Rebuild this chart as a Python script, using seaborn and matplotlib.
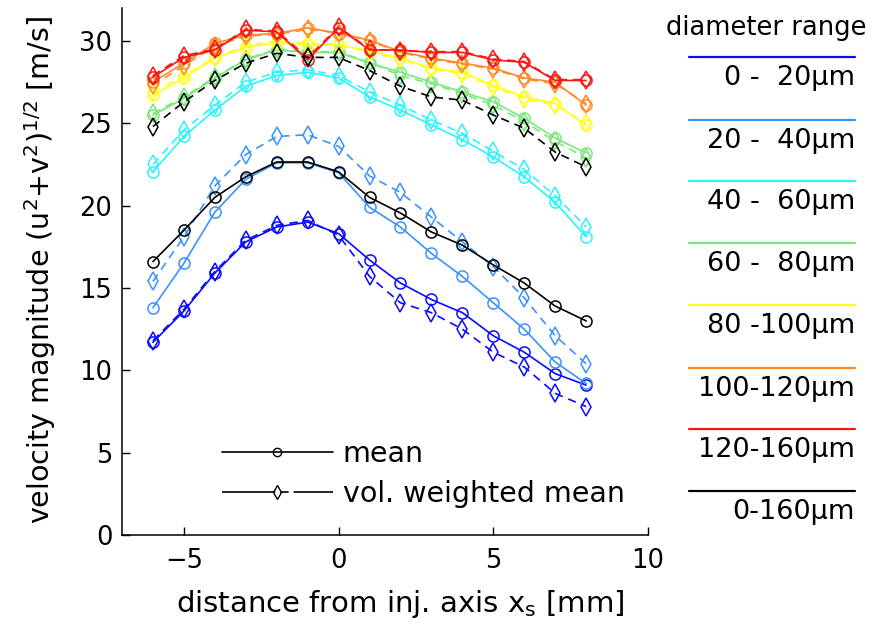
import matplotlib
matplotlib.use("Agg")
import matplotlib.pyplot as plt
from matplotlib.lines import Line2D
import seaborn as sns
import numpy as np

sns.set_style("white")
plt.rcParams['font.family'] = ['DejaVu Sans']
plt.rcParams['text.color'] = 'black'
plt.rcParams['axes.labelcolor'] = 'black'
plt.rcParams['xtick.color'] = 'black'
plt.rcParams['ytick.color'] = 'black'

# ---------------- data ----------------
x_mm = [-6, -5, -4, -3, -2, -1, 0, 1, 2, 3, 4, 5, 6, 7, 8]

range_labels = ["0 -  20\u00b5m", "20 -  40\u00b5m", "40 -  60\u00b5m", "60 -  80\u00b5m",
                "80 -100\u00b5m", "100-120\u00b5m", "120-160\u00b5m", "0-160\u00b5m"]
range_colors = ["#0a0aff", "#3a92ff", "#2af4ff", "#7be87a", "#ffff1a", "#ff8a26", "#ff1414", "#000000"]

mean_0_20 = [11.7, 13.6, 15.9, 17.8, 18.7, 19.0, 18.3, 16.7, 15.3, 14.3, 13.5, 12.1, 11.1, 9.8, 9.1]
vol_0_20 = [11.8, 13.7, 16.0, 17.9, 18.8, 19.1, 18.2, 15.7, 14.1, 13.5, 12.5, 11.1, 10.2, 8.6, 7.8]

mean_20_40 = [13.8, 16.5, 19.6, 21.6, 22.6, 22.6, 22.0, 19.9, 18.7, 17.1, 15.7, 14.1, 12.5, 10.5, 9.2]
vol_20_40 = [15.4, 18.1, 21.2, 23.1, 24.2, 24.3, 23.6, 21.8, 20.8, 19.3, 17.8, 16.3, 14.4, 12.1, 10.4]

mean_40_60 = [22.05, 24.2, 25.8, 27.25, 27.9, 28.1, 27.75, 26.6, 25.8, 24.9, 24.0, 22.95, 21.75, 20.2, 18.1]
vol_40_60 = [22.5, 24.6, 26.1, 27.5, 28.1, 28.25, 27.9, 26.9, 26.1, 25.2, 24.4, 23.3, 22.2, 20.6, 18.7]

mean_60_80 = [25.5, 26.5, 27.75, 28.85, 29.45, 29.3, 29.3, 28.65, 28.1, 27.5, 26.9, 26.3, 25.3, 24.1, 23.2]
vol_60_80 = [25.6, 26.6, 27.8, 28.9, 29.5, 29.35, 29.35, 28.7, 27.9, 27.4, 26.8, 26.1, 25.1, 23.9, 22.9]

mean_80_100 = [26.7, 27.75, 28.95, 29.6, 29.9, 29.75, 29.75, 29.4, 28.95, 28.35, 28.1, 27.3, 26.6, 26.2, 24.9]
vol_80_100 = [26.9, 27.9, 29.0, 29.7, 30.0, 29.85, 29.8, 29.3, 28.9, 28.3, 28.0, 27.2, 26.5, 26.1, 25.0]

mean_100_120 = [27.5, 28.65, 29.85, 30.35, 30.45, 30.8, 30.45, 30.05, 29.35, 28.95, 28.65, 28.35, 27.75, 27.5, 26.1]
vol_100_120 = [27.3, 28.5, 29.7, 30.3, 30.4, 30.7, 30.5, 30.0, 29.3, 28.9, 28.6, 28.3, 27.7, 27.4, 26.2]

mean_120_160 = [27.8, 29.0, 29.45, 30.65, 30.55, 28.85, 30.8, 29.45, 29.45, 29.3, 29.3, 28.85, 28.7, 27.6, 27.6]
vol_120_160 = [27.9, 29.1, 29.5, 30.7, 30.6, 29.0, 30.85, 29.5, 29.4, 29.35, 29.35, 28.9, 28.75, 27.65, 27.65]

mean_0_160 = [16.6, 18.5, 20.5, 21.75, 22.65, 22.65, 22.05, 20.5, 19.55, 18.4, 17.6, 16.4, 15.3, 13.9, 13.0]
vol_0_160 = [24.8, 26.3, 27.6, 28.65, 29.25, 29.0, 29.0, 28.2, 27.25, 26.6, 26.4, 25.5, 24.7, 23.25, 22.35]

mean_series = [mean_0_20, mean_20_40, mean_40_60, mean_60_80, mean_80_100, mean_100_120, mean_120_160, mean_0_160]
vol_series = [vol_0_20, vol_20_40, vol_40_60, vol_60_80, vol_80_100, vol_100_120, vol_120_160, vol_0_160]

# ---------------- figure ----------------
W, H = 875, 625
fig = plt.figure(figsize=(W / 100, H / 100), dpi=100)
ax = fig.add_axes([122 / W, 1 - 535 / H, (648 - 122) / W, (535 - 8) / H])

lw = 1.2
for c, m, v in zip(range_colors, mean_series, vol_series):
    sns.lineplot(x=x_mm, y=v, ax=ax, color=c, lw=lw, linestyle=(0, (5, 3.5)),
                 marker='d', markersize=9, markerfacecolor='none',
                 markeredgecolor=c, markeredgewidth=1.1, legend=False)
    sns.lineplot(x=x_mm, y=m, ax=ax, color=c, lw=lw, linestyle='-',
                 marker='o', markersize=8, markerfacecolor='none',
                 markeredgecolor=c, markeredgewidth=1.1, legend=False)

ax.set_xlim(-7, 10)
ax.set_ylim(0, 32)
ax.set_xticks([-5, 0, 5, 10])
ax.set_xticklabels(["\u22125", "0", "5", "10"])
ax.set_yticks([0, 5, 10, 15, 20, 25, 30])
ax.tick_params(direction='in', length=6, width=1, labelsize=18.5, color='black',
               labelcolor='black', left=True, bottom=True, pad=7)
ax.tick_params(axis='x', pad=9)
for side in ['top', 'right']:
    ax.spines[side].set_visible(False)
for side in ['left', 'bottom']:
    ax.spines[side].set_color('black')
    ax.spines[side].set_linewidth(1.1)

ax.set_xlabel("distance from inj. axis x$_\\mathregular{s}$ [mm]", fontsize=21)
ax.set_ylabel("velocity magnitude (u$^\\mathregular{2}$+v$^\\mathregular{2}$)$^\\mathregular{1/2}$ [m/s]",
              fontsize=20.5)
ax.xaxis.set_label_coords((400 - 122) / 526, -(588 - 535) / 527)
ax.yaxis.set_label_coords(-(122 - 58) / 526, (535 - 270) / 527)

# inner legend (line style key)
h_mean = Line2D([], [], color='black', lw=lw, marker='o', markersize=6,
                markerfacecolor='none', markeredgecolor='black')
h_vol = Line2D([], [], color='black', lw=lw, linestyle=(0, (32, 3, 5, 3)), marker='d', markersize=7,
               markerfacecolor='none', markeredgecolor='black')
ax.legend([h_mean, h_vol], ["mean", "vol. weighted mean"], loc='lower left',
          bbox_to_anchor=(0.141, 0.003), frameon=False, fontsize=20.5,
          handlelength=3.9, handletextpad=0.35, labelspacing=0.4, markerscale=1.0)

# right-hand colour key
fig.text(766 / W, 1 - 28 / H, "diameter range", ha='center', va='center', fontsize=18.5)
line_y = [57, 120, 181, 243, 305, 368, 429, 491]
for c, lab, yy in zip(range_colors, range_labels, line_y):
    fig.add_artist(Line2D([689 / W, 855 / W], [1 - yy / H, 1 - yy / H],
                          transform=fig.transFigure, color=c, lw=1.6))
    fig.text(855 / W, 1 - (yy + 21) / H, lab, ha='right', va='center', fontsize=19.5)

fig.savefig("out.png", dpi=100)
